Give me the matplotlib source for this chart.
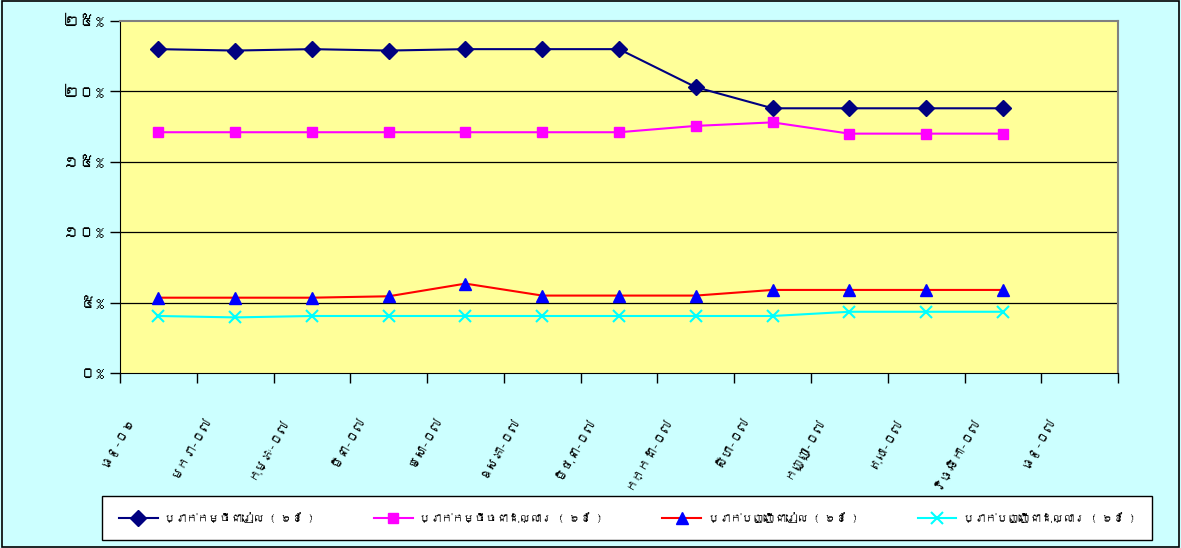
import matplotlib
matplotlib.use("Agg")
import matplotlib.pyplot as plt
import matplotlib.transforms as mtransforms
from matplotlib import font_manager
from matplotlib.ft2font import FT2Font
from matplotlib.patches import Rectangle

# look for any installed font that has Khmer glyphs
khmer_font = None
for f in font_manager.fontManager.ttflist:
    try:
        if 0x1780 in FT2Font(f.fname).get_charmap():
            khmer_font = f.name
            break
    except Exception:
        pass
fams = ([khmer_font] if khmer_font else []) + ['DejaVu Sans']
plt.rcParams['font.family'] = fams

# data
months = ['ធ្នូ-០៦', 'មករា-០៧', 'កុម្ភៈ-០៧', 'មីនា-០៧', 'មេសា-០៧', 'ឧសភា-០៧',
          'មិថុនា-០៧', 'កក្កដា-០៧', 'សីហា-០៧', 'កញ្ញា-០៧', 'តុលា-០៧',
          'វិច្ឆិកា-០៧', 'ធ្នូ-០៧']
loan_riel = [23.0, 22.9, 23.0, 22.9, 23.0, 23.0, 23.0, 20.3, 18.8, 18.8, 18.8, 18.8]
loan_usd = [17.1, 17.1, 17.1, 17.1, 17.1, 17.1, 17.1, 17.55, 17.8, 17.0, 17.0, 17.0]
dep_riel = [5.35, 5.35, 5.35, 5.45, 6.35, 5.5, 5.5, 5.5, 5.9, 5.9, 5.9, 5.9]
dep_usd = [4.05, 3.95, 4.05, 4.05, 4.05, 4.05, 4.05, 4.05, 4.05, 4.35, 4.35, 4.35]
names = ['ប្រាក់កម្ចីជារៀល ( ៦ខែ )', 'ប្រាក់កម្ចីចជាដុល្លារ ( ៦ខែ )',
         'ប្រាក់បញ្ញើជារៀល ( ៦ខែ )', 'ប្រាក់បញ្ញើជាដុល្លារ ( ៦ខែ )']
ytick_vals = [0, 5, 10, 15, 20, 25]
ytick_labels = ['០%', '៥%', '១០%', '១៥%', '២០%', '២៥%']

fig = plt.figure(figsize=(11.81, 5.48), dpi=100, facecolor='#CCFFFF')
fig.patches.append(Rectangle((0.002, 0.002), 0.996, 0.996, transform=fig.transFigure,
                             fill=False, edgecolor='black', linewidth=1.2))
ax = fig.add_axes([0.1016, 0.3193, 0.8451, 0.6424])
ax.set_facecolor('#FFFF99')

x = list(range(len(loan_riel)))
ax.plot(x, loan_riel, color='#000080', marker='D', ms=8, mfc='#000080', mec='#000080',
        lw=1.5, label=names[0])
ax.plot(x, loan_usd, color='#FF00FF', marker='s', ms=7.5, mfc='#FF00FF', mec='#FF00FF',
        lw=1.5, label=names[1])
ax.plot(x, dep_riel, color='#FF0000', marker='^', ms=9, mfc='#0000FF', mec='#0000FF',
        lw=1.5, label=names[2])
ax.plot(x, dep_usd, color='#00FFFF', marker='x', ms=8, mew=1.5, lw=1.5, label=names[3])

ax.set_xlim(-0.5, len(months) - 0.5)
ax.set_ylim(0, 25)
for v in ytick_vals[1:-1]:
    ax.axhline(v, color='black', lw=0.9, zorder=0.5)

ax.set_yticks(ytick_vals)
ax.set_yticklabels(ytick_labels, fontsize=12)
ax.tick_params(axis='y', length=7, width=1, direction='out', pad=4)

ax.set_xticks([i - 0.5 for i in range(len(months) + 1)])
ax.set_xticklabels([])
ax.tick_params(axis='x', which='major', length=7, width=1, direction='out')
ax.set_xticks(list(range(len(months))), minor=True)
ax.set_xticklabels(months, minor=True, rotation=60, ha='right', va='top', fontsize=9)
ax.tick_params(axis='x', which='minor', length=0, pad=0)
off = mtransforms.ScaledTranslation(-22 / 100, -42 / 100, fig.dpi_scale_trans)
for lab in ax.get_xticklabels(minor=True):
    lab.set_transform(lab.get_transform() + off)

for s in ['left', 'bottom']:
    ax.spines[s].set_color('black')
for s in ['top', 'right']:
    ax.spines[s].set_color('#808080')
    ax.spines[s].set_linewidth(1.5)

leg = fig.legend(loc='lower left', bbox_to_anchor=(0.0864, 0.0146, 0.889, 0.078),
                 mode='expand', ncol=4, fontsize=8, frameon=True, fancybox=False,
                 handlelength=3.5, handletextpad=0.6, columnspacing=1.0,
                 borderaxespad=0, borderpad=1.5)
leg.get_frame().set_edgecolor('black')
leg.get_frame().set_facecolor('white')
leg.get_frame().set_alpha(1)

fig.savefig('out.png', dpi=100, facecolor=fig.get_facecolor())
